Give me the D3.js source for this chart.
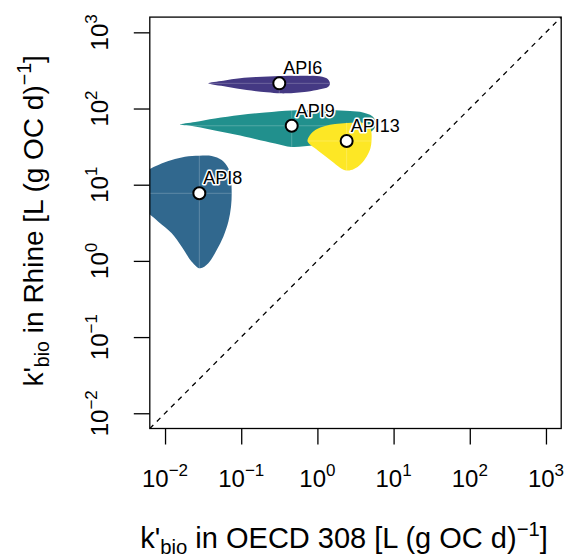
<!DOCTYPE html>
<html>
<head>
<meta charset="utf-8">
<script src="https://cdn.jsdelivr.net/npm/d3@7"></script>
<style>
  html, body { margin: 0; padding: 0; background: #fff; }
  svg { display: block; }
  text { font-family: "Liberation Sans", Arial, Helvetica, sans-serif; }
</style>
</head>
<body>
<svg id="chart" width="569" height="557"></svg>
<script>
// ---------------- data ----------------
const compounds = ["API8", "API6", "API9", "API13"];
const colors = ["#31688e", "#443983", "#21908d", "#fde725"];
// median k'bio (L (g OC d)^-1)
const kOECD  = [0.0282, 0.316, 0.460, 2.42];
const kRhine = [7.71, 214, 59.4, 37.5];
// outlines of the distributions, as [log10 k'bio OECD, log10 k'bio Rhine]
const outlineAPI8 = [[-2.525,0.887],[-2.394,1.009],[-2.219,1.193],[-2.088,1.259],[-1.912,1.324],[-1.738,1.368],[-1.550,1.381],[-1.387,1.377],[-1.256,1.324],[-1.169,1.215],[-1.134,1.062],[-1.125,0.887],[-1.134,0.711],[-1.169,0.515],[-1.235,0.318],[-1.322,0.143],[-1.432,-0.031],[-1.541,-0.097],[-1.650,-0.010],[-1.781,0.186],[-1.912,0.362],[-2.088,0.515],[-2.219,0.625],[-2.394,0.760]];
const outlineAPI6 = [[-1.432,2.331],[-1.235,2.365],[-1.016,2.396],[-0.797,2.413],[-0.491,2.427],[-0.228,2.430],[-0.009,2.427],[0.122,2.396],[0.165,2.331],[0.143,2.286],[0.034,2.252],[-0.140,2.220],[-0.403,2.199],[-0.491,2.199],[-0.665,2.213],[-0.928,2.243],[-1.190,2.286]];
const outlineAPI9 = [[-1.803,1.790],[-1.606,1.823],[-1.344,1.869],[-1.016,1.915],[-0.688,1.948],[-0.337,1.974],[-0.097,1.980],[0.165,1.980],[0.428,1.967],[0.598,1.948],[0.716,1.902],[0.762,1.836],[0.762,1.774],[0.743,1.731],[0.690,1.685],[0.559,1.626],[0.297,1.567],[-0.032,1.521],[-0.337,1.495],[-0.556,1.541],[-0.819,1.600],[-1.081,1.659],[-1.409,1.724],[-1.646,1.770]];
const outlineAPI13 = [[-0.130,1.574],[-0.097,1.652],[-0.018,1.724],[0.100,1.770],[0.231,1.797],[0.384,1.810],[0.533,1.816],[0.638,1.803],[0.690,1.757],[0.710,1.679],[0.710,1.574],[0.697,1.482],[0.651,1.377],[0.572,1.272],[0.480,1.206],[0.401,1.186],[0.323,1.206],[0.218,1.285],[0.100,1.377],[-0.018,1.469],[-0.097,1.528]];
const outlines = [outlineAPI8, outlineAPI6, outlineAPI9, outlineAPI13];
const tickExponents = [-2, -1, 0, 1, 2, 3];
const domainExp = [-2.2, 3.2];

// ---------------- layout ----------------
const svg = d3.select("#chart");
const W = 569, H = 557;
const plot = { left: 149.8, right: 561.2, top: 17.1, bottom: 428.5 };

const x = d3.scaleLog().domain(domainExp.map(e => Math.pow(10, e))).range([plot.left, plot.right]);
const y = d3.scaleLog().domain(domainExp.map(e => Math.pow(10, e))).range([plot.bottom, plot.top]);

svg.append("rect").attr("width", W).attr("height", H).attr("fill", "#fff");

svg.append("defs").append("clipPath").attr("id", "clip")
  .append("rect").attr("x", plot.left).attr("y", plot.top)
  .attr("width", plot.right - plot.left).attr("height", plot.bottom - plot.top);

const g = svg.append("g").attr("clip-path", "url(#clip)");

const line = d3.line()
  .x(d => x(Math.pow(10, d[0])))
  .y(d => y(Math.pow(10, d[1])))
  .curve(d3.curveCatmullRomClosed.alpha(0.5));

outlines.forEach((ol, i) => {
  const grp = g.append("g");
  grp.append("path").attr("d", line(ol)).attr("fill", colors[i]).attr("stroke", "none");
  const xs = ol.map(d => d[0]), ys = ol.map(d => d[1]);
  const cx = x(kOECD[i]), cy = y(kRhine[i]);
  grp.append("line")
    .attr("x1", x(Math.pow(10, d3.min(xs)))).attr("x2", x(Math.pow(10, d3.max(xs))))
    .attr("y1", cy).attr("y2", cy)
    .attr("stroke", "#fff").attr("stroke-opacity", 0.22).attr("stroke-width", 1);
  grp.append("line")
    .attr("x1", cx).attr("x2", cx)
    .attr("y1", y(Math.pow(10, d3.max(ys)))).attr("y2", y(Math.pow(10, d3.min(ys))))
    .attr("stroke", "#fff").attr("stroke-opacity", 0.22).attr("stroke-width", 1);
});

// 1:1 line
g.append("line")
  .attr("x1", x(Math.pow(10, domainExp[0]))).attr("y1", y(Math.pow(10, domainExp[0])))
  .attr("x2", x(Math.pow(10, domainExp[1]))).attr("y2", y(Math.pow(10, domainExp[1])))
  .attr("stroke", "#000").attr("stroke-width", 1.3).attr("stroke-dasharray", "5,5");

// points and labels
compounds.forEach((c, i) => {
  const cx = x(kOECD[i]), cy = y(kRhine[i]);
  svg.append("circle").attr("cx", cx).attr("cy", cy).attr("r", 6)
    .attr("fill", "#fff").attr("stroke", "#000").attr("stroke-width", 2);
});
compounds.forEach((c, i) => {
  const cx = x(kOECD[i]), cy = y(kRhine[i]);
  svg.append("text").attr("x", cx + 4).attr("y", cy - 9)
    .attr("font-size", 18).attr("fill", "#000")
    .attr("stroke", "#fff").attr("stroke-width", 3).attr("stroke-linejoin", "round")
    .attr("paint-order", "stroke")
    .text(c);
});

// box
svg.append("rect").attr("x", plot.left).attr("y", plot.top)
  .attr("width", plot.right - plot.left).attr("height", plot.bottom - plot.top)
  .attr("fill", "none").attr("stroke", "#000").attr("stroke-width", 1.3);

// axes
const tickLen = 16;
const tickVals = tickExponents.map(e => Math.pow(10, e));
const xAxis = svg.append("g").attr("transform", `translate(0,${plot.bottom})`)
  .call(d3.axisBottom(x).tickValues(tickVals).tickSize(tickLen).tickFormat(""));
xAxis.select(".domain").remove();
xAxis.selectAll(".tick line").attr("stroke-width", 1.3);

const yAxis = svg.append("g").attr("transform", `translate(${plot.left},0)`)
  .call(d3.axisLeft(y).tickValues(tickVals).tickSize(tickLen).tickFormat(""));
yAxis.select(".domain").remove();
yAxis.selectAll(".tick line").attr("stroke-width", 1.3);

function powLabel(sel, e) {
  sel.append("tspan").text("10");
  sel.append("tspan").attr("font-size", 17).attr("dy", -11).text(e < 0 ? "\u2212" + (-e) : String(e));
}
tickExponents.forEach(e => {
  const t = svg.append("text").attr("x", x(Math.pow(10, e))).attr("y", 486.5)
    .attr("text-anchor", "middle").attr("font-size", 24);
  powLabel(t, e);
  const ty = svg.append("text")
    .attr("transform", `translate(108.3,${y(Math.pow(10, e))}) rotate(-90)`)
    .attr("text-anchor", "middle").attr("font-size", 24);
  powLabel(ty, e);
});

// axis titles
function titleText(sel, mid, fs) {
  const sub = fs * 0.7;
  sel.append("tspan").text("k'");
  sel.append("tspan").attr("font-size", sub).attr("dy", fs * 0.21).text("bio");
  sel.append("tspan").attr("dy", -fs * 0.21).text(mid + " [L (g OC d)");
  sel.append("tspan").attr("font-size", sub).attr("dy", -fs * 0.43).text("\u22121");
  sel.append("tspan").attr("dy", fs * 0.43).text("]");
}
const xt = svg.append("text").attr("x", 344).attr("y", 548)
  .attr("text-anchor", "middle").attr("font-size", 29);
titleText(xt, " in OECD 308", 29);
const yt = svg.append("text")
  .attr("transform", `translate(43,${(plot.top + plot.bottom) / 2 - 2}) rotate(-90)`)
  .attr("text-anchor", "middle").attr("font-size", 28);
titleText(yt, " in Rhine", 28);
</script>
</body>
</html>
